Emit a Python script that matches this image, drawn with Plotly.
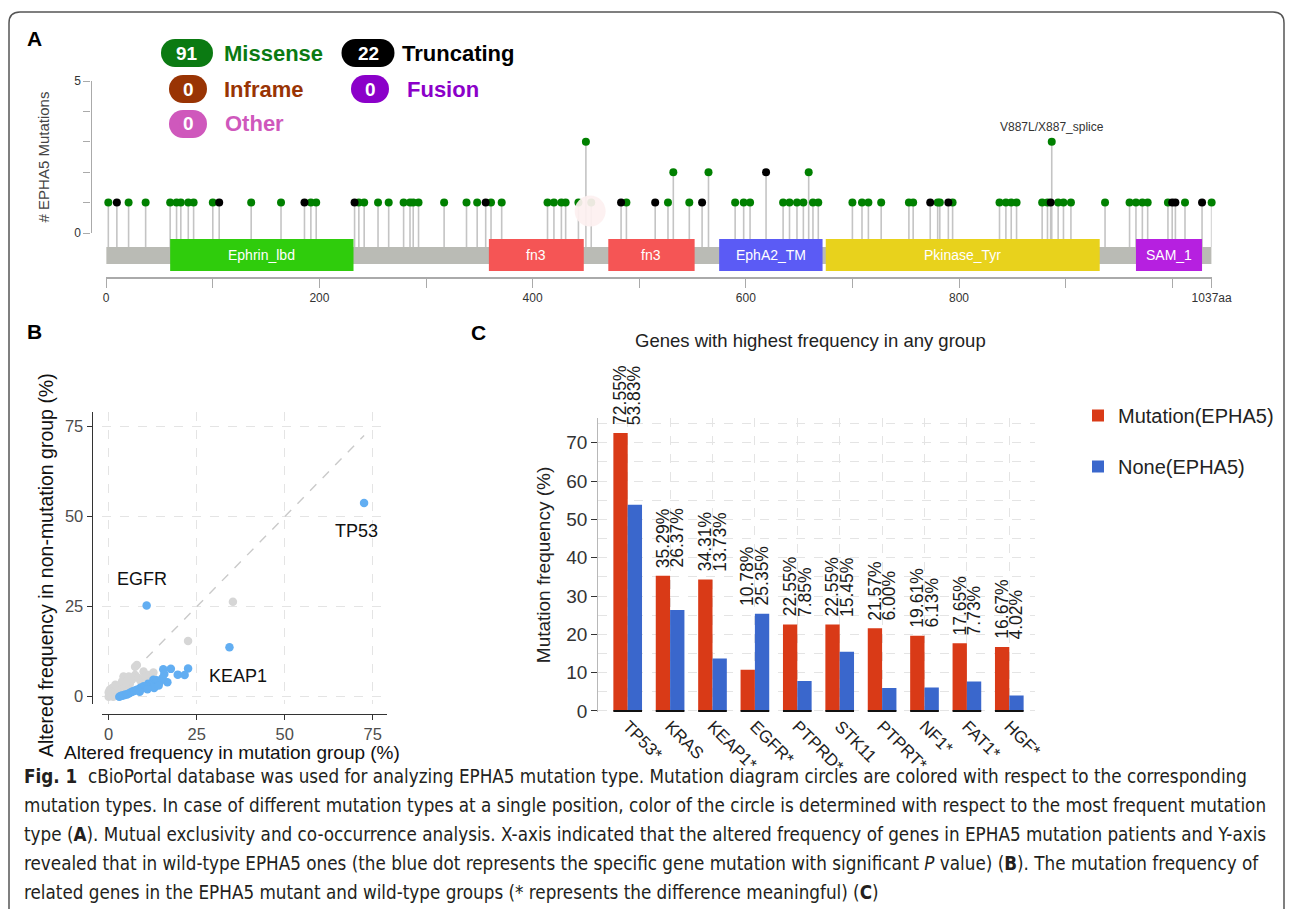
import plotly.graph_objects as go

# page is 1293x917; browser body margin of 8px is kept, so the figure is 1277x901 at (8, 8)
PAGE_W, PAGE_H = 1293, 917
OFF = 8
W, H = PAGE_W - 2 * OFF, PAGE_H - 2 * OFF


def fx(p):
    return (p - OFF) / W


def fy(p):
    return 1 - (p - OFF) / H


# ---------------- Panel A data (lollipop) ----------------
protein_length = 1037
missense_pos = [2, 21, 37, 60, 66, 70, 77, 82, 100, 136, 164, 192, 197, 237, 242, 255, 265, 279,
                285, 288, 293, 317, 338, 348, 361, 371, 414, 420, 427, 431, 443, 450, 455, 488,
                527, 532, 547, 565, 590, 598, 604, 635, 641, 648, 654, 659, 663, 668, 700, 709,
                715, 727, 753, 757, 780, 782, 794, 838, 844, 849, 854, 878, 883, 887, 893, 898,
                905, 937, 960, 966, 972, 977, 996, 1012, 1037]
missense_count = [1, 1, 1, 1, 1, 1, 1, 1, 1, 1, 1, 1, 1, 1, 1, 1, 1, 1,
                  1, 1, 1, 1, 1, 1, 1, 1, 1, 1, 1, 1, 1, 3, 1, 1,
                  1, 2, 1, 2, 1, 1, 1, 1, 1, 1, 1, 2, 1, 1, 1, 1,
                  1, 1, 1, 1, 1, 1, 1, 1, 1, 1, 1, 1, 1, 3, 1, 1,
                  1, 1, 1, 1, 1, 1, 1, 1, 1]
truncating_pos = [10, 106, 186, 233, 356, 483, 515, 559, 619, 773, 790, 886, 1000, 1003, 1028]
truncating_count = [1, 1, 1, 1, 1, 1, 1, 1, 2, 1, 1, 1, 1, 1, 1]
domain_names = ['Ephrin_lbd', 'fn3', 'fn3', 'EphA2_TM', 'Pkinase_Tyr', 'SAM_1']
domain_start = [60, 359, 471, 575, 675, 966]
domain_end = [232, 448, 552, 672, 932, 1028]
badge_labels = ['Missense', 'Truncating', 'Inframe', 'Fusion', 'Other']
badge_counts = [91, 22, 0, 0, 0]
hotspot_label = 'V887L/X887_splice'
hotspot_pos = 887
hotspot_count = 3
selected_pos = [454]
selected_level = [0.72]
a_tick_vals = [0, 100, 200, 300, 400, 500, 600, 700, 800, 900, 1000, 1037]
a_tick_text = ['0', '', '200', '', '400', '', '600', '', '800', '', '', '1037aa']
a_y_vals = [0, 1, 2, 3, 4, 5]
a_y_text = ['0', '', '', '', '', '5']

# ---------------- Panel B data (scatter) ----------------
sig_x = [72.55, 10.78, 34.31, 22.55, 21.57, 19.61, 17.65, 16.67, 15.5, 15.8,
         15.3, 14.6, 13.7, 13.6, 12.7, 12.2, 11.8, 11.2, 10.8, 10.4,
         9.9, 9.4, 9.0, 8.5, 8.0, 7.5, 7.0, 6.6, 6.1, 5.7,
         5.2, 4.7, 4.3, 3.8, 3.4, 3.0, 12.9, 11.0, 8.8, 14.2]
sig_y = [53.83, 25.35, 13.73, 7.85, 6.00, 6.13, 7.73, 4.02, 7.6, 6.3,
         5.2, 4.2, 3.7, 4.6, 4.7, 3.0, 3.3, 3.6, 2.8, 2.6,
         2.9, 2.3, 2.5, 2.0, 1.9, 1.7, 1.5, 1.4, 1.1, 0.9,
         0.6, 0.6, 0.4, 0.3, 0.2, 0.0, 2.4, 2.1, 1.4, 3.1]
ns_x = [35.29, 22.55, 0.0, 0.4, 0.8, 1.2, 1.6, 2.0, 2.4, 0.3,
        1.0, 1.9, 2.8, 3.5, 4.2, 4.7, 5.2, 5.7, 6.6, 7.5,
        8.0, 8.5, 9.9, 11.3, 12.7, 12.7, 7.5, 3.8, 6.0, 9.0,
        10.5, 3.0, 2.2, 1.5, 4.5, 0.6, 5.0, 0.0, 1.3, 2.6]
ns_y = [26.37, 15.45, 0.0, 0.4, 0.9, 0.2, 1.3, 0.6, 1.6, 1.9,
        2.4, 3.3, 2.8, 2.1, 5.6, 3.7, 2.6, 5.6, 4.7, 6.0,
        8.8, 5.2, 7.0, 6.0, 5.1, 6.7, 8.3, 4.2, 3.6, 4.5,
        5.5, 1.2, 2.0, 0.9, 2.9, 1.3, 4.0, 1.2, 0.0, 0.3]
diag_x = [0, 72.55]
diag_y = [0, 72.55]
b_labels = ['TP53', 'EGFR', 'KEAP1']
b_label_x = [70.3, 9.4, 36.8]
b_label_y = [46.0, 32.6, 5.8]
b_ticks = [0, 25, 50, 75]
b_x_title = 'Altered frequency in mutation group (%)'
b_y_title = 'Altered frequency in non-mutation group (%)'

# ---------------- Panel C data (bars) ----------------
genes = ['TP53*', 'KRAS', 'KEAP1*', 'EGFR*', 'PTPRD*', 'STK11', 'PTPRT*', 'NF1*', 'FAT1*', 'HGF*']
freq_mut = [72.55, 35.29, 34.31, 10.78, 22.55, 22.55, 21.57, 19.61, 17.65, 16.67]
freq_none = [53.83, 26.37, 13.73, 25.35, 7.85, 15.45, 6.00, 6.13, 7.73, 4.02]
series_names = ['Mutation(EPHA5)', 'None(EPHA5)']

caption_lines = [
    "<b>Fig. 1</b>\u00a0\u00a0cBioPortal database was used for analyzing EPHA5 mutation type. Mutation diagram circles are colored with respect to the corresponding",
    "mutation types. In case of different mutation types at a single position, color of the circle is determined with respect to the most frequent mutation",
    "type (<b>A</b>). Mutual exclusivity and co-occurrence analysis. X-axis indicated that the altered frequency of genes in EPHA5 mutation patients and Y-axis",
    "revealed that in wild-type EPHA5 ones (the blue dot represents the specific gene mutation with significant <i>P</i> value) (<b>B</b>). The mutation frequency of",
    "related genes in the EPHA5 mutant and wild-type groups (* represents the difference meaningful) (<b>C</b>)",
]

# ---------------- styles ----------------
SANS = 'Liberation Sans, Arial, sans-serif'
NARROW = 'DejaVu Sans Condensed, Liberation Sans Narrow, sans-serif'
C_MIS = '#008000'
C_TRUNC = '#000000'
badge_colors = ['#0b7a12', '#000000', '#993404', '#8B00C9', '#CF58BC']
badge_text_colors = ['#0b7a12', '#000000', '#993404', '#8B00C9', '#CF58BC']
domain_colors = ['#2fcc0c', '#f55555', '#f55555', '#5b5bf5', '#e8d21c', '#b620e0']
RED = '#d93a17'
BLUE = '#3a67cc'
STEM_BASE = -0.46

fig = go.Figure()

# ====== Panel A ======
all_pos = missense_pos + truncating_pos
all_cnt = missense_count + truncating_count
stem_x, stem_y = [], []
for p, c in zip(all_pos, all_cnt):
    stem_x += [p, p, None]
    stem_y += [STEM_BASE, c, None]
fig.add_trace(go.Scatter(x=stem_x, y=stem_y, mode='lines', xaxis='x', yaxis='y',
                         line=dict(color='#c4c4c4', width=1.6), hoverinfo='skip', showlegend=False))
fig.add_trace(go.Scatter(x=missense_pos, y=missense_count, mode='markers', xaxis='x', yaxis='y',
                         marker=dict(color=C_MIS, size=8, line=dict(width=0)), cliponaxis=False,
                         showlegend=False, name='Missense'))
fig.add_trace(go.Scatter(x=truncating_pos, y=truncating_count, mode='markers', xaxis='x', yaxis='y',
                         marker=dict(color=C_TRUNC, size=8, line=dict(width=0)), cliponaxis=False,
                         showlegend=False, name='Truncating'))
fig.add_trace(go.Scatter(x=selected_pos, y=selected_level, mode='markers', xaxis='x', yaxis='y',
                         marker=dict(color='rgba(253,240,240,0.93)', size=31, line=dict(width=0)),
                         cliponaxis=False, showlegend=False, hoverinfo='skip'))
fig.add_trace(go.Scatter(x=[], y=[], xaxis='x4', yaxis='y4', showlegend=False))

shapes = []
shapes.append(dict(type='rect', xref='x', yref='y', x0=0, x1=protein_length, y0=-1.02, y1=-0.46,
                   fillcolor='#babbb5', line=dict(width=0), layer='above'))
annotations = []
for name, s, e, col in zip(domain_names, domain_start, domain_end, domain_colors):
    shapes.append(dict(type='rect', xref='x', yref='y', x0=s, x1=e, y0=-1.25, y1=-0.197,
                       fillcolor=col, line=dict(width=0), layer='above'))
    annotations.append(dict(x=(s + e) / 2, y=-0.72, xref='x', yref='y', text=name, showarrow=False,
                            xanchor='center', yanchor='middle',
                            font=dict(family=SANS, size=14, color='white')))
annotations.append(dict(x=hotspot_pos, y=hotspot_count, xref='x', yref='y', text=hotspot_label,
                        showarrow=False, xanchor='center', yanchor='bottom', yshift=6,
                        font=dict(family=SANS, size=12, color='#333333')))


def pill(cx, cy, w, h, color):
    r = h / 2
    out = [dict(type='rect', xref='paper', yref='paper', x0=fx(cx - w / 2 + r), x1=fx(cx + w / 2 - r),
                y0=fy(cy + r), y1=fy(cy - r), fillcolor=color, line=dict(width=0), layer='below')]
    for ccx in (cx - w / 2 + r, cx + w / 2 - r):
        out.append(dict(type='circle', xref='paper', yref='paper', x0=fx(ccx - r), x1=fx(ccx + r),
                        y0=fy(cy + r), y1=fy(cy - r), fillcolor=color, line=dict(width=0),
                        layer='below'))
    return out


badge_geom = [(187, 53, 52, 28, 222), (368, 53, 53, 28, 400), (188, 89, 38, 28, 222),
              (370, 89, 38, 28, 405), (188, 124, 38, 28, 223)]
for lab, cnt, col, tcol, (cx, cy, w, h, tx) in zip(badge_labels, badge_counts, badge_colors,
                                                    badge_text_colors, badge_geom):
    shapes += pill(cx, cy, w, h, col)
    annotations.append(dict(x=fx(cx), y=fy(cy), xref='paper', yref='paper', text='<b>%d</b>' % cnt,
                            showarrow=False, xanchor='center', yanchor='middle',
                            font=dict(family=SANS, size=19, color='white')))
    annotations.append(dict(x=fx(tx), y=fy(cy), xref='paper', yref='paper', text='<b>%s</b>' % lab,
                            showarrow=False, xanchor='left', yanchor='middle',
                            font=dict(family=SANS, size=22, color=tcol)))

# ====== Panel B ======
fig.add_trace(go.Scatter(x=diag_x, y=diag_y, mode='lines', xaxis='x2', yaxis='y2',
                         line=dict(color='#cacaca', width=1.4, dash='dash'), showlegend=False,
                         hoverinfo='skip'))
fig.add_trace(go.Scatter(x=ns_x, y=ns_y, mode='markers', xaxis='x2', yaxis='y2',
                         marker=dict(color='#d6d6d6', size=8.5, line=dict(width=0)),
                         cliponaxis=False, showlegend=False, name='not significant'))
fig.add_trace(go.Scatter(x=sig_x, y=sig_y, mode='markers', xaxis='x2', yaxis='y2',
                         marker=dict(color='#62aef2', size=8.5, line=dict(width=0)),
                         cliponaxis=False, showlegend=False, name='significant'))
for t, x, y in zip(b_labels, b_label_x, b_label_y):
    annotations.append(dict(x=x, y=y, xref='x2', yref='y2', text=t, showarrow=False,
                            xanchor='center', yanchor='middle',
                            font=dict(family=SANS, size=18, color='#111111')))
annotations.append(dict(x=fx(232), y=fy(752), xref='paper', yref='paper', text=b_x_title,
                        showarrow=False, xanchor='center', yanchor='middle',
                        font=dict(family=SANS, size=19, color='#111111')))
annotations.append(dict(x=fx(46), y=fy(565), xref='paper', yref='paper', text=b_y_title,
                        showarrow=False, xanchor='center', yanchor='middle', textangle=-90,
                        font=dict(family=SANS, size=19.5, color='#111111')))

# ====== Panel C ======
gene_idx = list(range(len(genes)))
BW = 0.338
fig.add_trace(go.Bar(x=gene_idx, y=freq_mut, offset=-BW, width=BW, xaxis='x3', yaxis='y3',
                     marker=dict(color=RED, line=dict(width=0)), name=series_names[0],
                     legendgroup='m'))
fig.add_trace(go.Bar(x=gene_idx, y=freq_none, offset=0, width=BW, xaxis='x3', yaxis='y3',
                     marker=dict(color=BLUE, line=dict(width=0)), name=series_names[1],
                     legendgroup='n'))
base_x, base_y = [], []
for i in gene_idx:
    base_x += [i - BW, i + BW, None]
    base_y += [0, 0, None]
fig.add_trace(go.Scatter(x=base_x, y=base_y, mode='lines', xaxis='x3', yaxis='y3',
                         line=dict(color='#111111', width=2), showlegend=False, hoverinfo='skip'))
for i, m, n in zip(gene_idx, freq_mut, freq_none):
    top = max(m, n)
    for val, sh in ((m, -7.2), (n, 7.2)):
        annotations.append(dict(x=i, y=top, xref='x3', yref='y3', text='%.2f%%' % val,
                                showarrow=False, textangle=-90, xanchor='center', yanchor='bottom',
                                xshift=sh, yshift=6,
                                font=dict(family=SANS, size=17.5, color='#1a1a1a')))
annotations.append(dict(x=fx(810), y=fy(340), xref='paper', yref='paper',
                        text='Genes with highest frequency in any group', showarrow=False,
                        xanchor='center', yanchor='middle',
                        font=dict(family=SANS, size=18.5, color='#222222')))

# panel letters
for letter, x, y in (('A', 34, 39), ('B', 34, 332), ('C', 478, 333)):
    annotations.append(dict(x=fx(x), y=fy(y), xref='paper', yref='paper', text='<b>%s</b>' % letter,
                            showarrow=False, xanchor='center', yanchor='middle',
                            font=dict(family=SANS, size=21, color='black')))

# caption
for k, line in enumerate(caption_lines):
    annotations.append(dict(x=fx(22), y=fy(776 + 29 * k), xref='paper', yref='paper', text=line,
                            showarrow=False, xanchor='left', yanchor='middle',
                            font=dict(family=NARROW, size=18.7, color='#231f20')))

# border (rounded frame)
L, T, R, B, r = 9, 12, 1284, 925, 11
border = (f"M {fx(L)},{fy(B - r)} L {fx(L)},{fy(T + r)} Q {fx(L)},{fy(T)} {fx(L + r)},{fy(T)} "
          f"L {fx(R - r)},{fy(T)} Q {fx(R)},{fy(T)} {fx(R)},{fy(T + r)} L {fx(R)},{fy(B - r)} "
          f"Q {fx(R)},{fy(B)} {fx(R - r)},{fy(B)} L {fx(L + r)},{fy(B)} Q {fx(L)},{fy(B)} {fx(L)},{fy(B - r)} Z")
shapes.append(dict(type='path', xref='paper', yref='paper', path=border,
                   line=dict(color='#555555', width=1.5)))

# ---------- axes geometry (page pixels) ----------
A_x0, A_k = 106.2, 1.066
A_y0, A_ky = 233.0, 30.4
a_yr = [(A_y0 - 277) / A_ky, (A_y0 - 78) / A_ky]
B_x0, B_kx, B_y0, B_ky = 108.7, 3.52, 696.7, 3.6
b_xr = [-2.0, 79.0]
b_yr = [-2.0, 79.0]
C_x0, C_kx, C_y0, C_ky = 627.7, 42.4, 711.0, 3.833
c_xr = [-0.693, 9.6]
c_yr = [-0.3, 76.5]

grid_c = '#e4e4e4'
layout = dict(
    width=W, height=H, autosize=False,
    margin=dict(l=0, r=0, t=0, b=0, pad=0, autoexpand=False),
    paper_bgcolor='white', plot_bgcolor='white',
    font=dict(family=SANS, color='#222222'),
    showlegend=True,
    legend=dict(x=fx(1078), y=fy(396), xanchor='left', yanchor='top', bgcolor='rgba(0,0,0,0)',
                font=dict(family=SANS, size=20, color='#222222'), tracegroupgap=22,
                traceorder='grouped'),
    barmode='group',
    xaxis=dict(domain=[fx(A_x0), fx(A_x0 + A_k * protein_length)], range=[0, protein_length],
               anchor='y', showline=True, linecolor='#aaaaaa', linewidth=1.5, ticks='outside',
               ticklen=9, tickcolor='#aaaaaa', tickwidth=1.3, tickvals=a_tick_vals,
               ticktext=a_tick_text, tickfont=dict(family=SANS, size=12, color='#333333'),
               showgrid=False, zeroline=False, automargin=False),
    yaxis=dict(domain=[fy(277), fy(78)], range=a_yr, anchor='x', visible=False, automargin=False),
    xaxis4=dict(domain=[fx(91.5), fx(92.5)], range=[0, 1], anchor='y4', visible=False,
                automargin=False),
    yaxis4=dict(domain=[fy(A_y0), fy(A_y0 - 5 * A_ky)], range=[0, 5], anchor='x4', showline=True,
                linecolor='#aaaaaa', linewidth=1.3, ticks='outside', ticklen=7, tickcolor='#aaaaaa',
                tickvals=a_y_vals, ticktext=a_y_text, showgrid=False, zeroline=False,
                automargin=False, tickfont=dict(family=SANS, size=12, color='#333333'),
                title=dict(text='# EPHA5 Mutations', standoff=21,
                           font=dict(family=SANS, size=15, color='#444444'))),
    xaxis2=dict(domain=[fx(B_x0 + b_xr[0] * B_kx), fx(B_x0 + b_xr[1] * B_kx)], range=b_xr,
                anchor='free', position=fy(714), showline=True, linecolor='#333333', linewidth=1.3,
                ticks='outside', ticklen=5, tickcolor='#333333', tickvals=b_ticks,
                tickfont=dict(family=SANS, size=16.5, color='#4d4d4d'), automargin=False,
                showgrid=True, gridcolor=grid_c, griddash='dash', zeroline=False),
    yaxis2=dict(domain=[fy(B_y0 - b_yr[0] * B_ky), fy(B_y0 - b_yr[1] * B_ky)], range=b_yr,
                anchor='free', position=fx(91.7), showline=True, linecolor='#333333', linewidth=1.3,
                ticks='outside', ticklen=5, tickcolor='#333333', tickvals=b_ticks,
                tickfont=dict(family=SANS, size=16.5, color='#4d4d4d'), automargin=False,
                showgrid=True, gridcolor=grid_c, griddash='dash', zeroline=False),
    xaxis3=dict(domain=[fx(C_x0 + c_xr[0] * C_kx), fx(C_x0 + c_xr[1] * C_kx)], range=c_xr,
                anchor='y3', showline=False, ticks='', tickvals=gene_idx, ticktext=genes,
                tickangle=45, tickfont=dict(family=SANS, size=17, color='#222222'),
                showgrid=True, gridcolor=grid_c, griddash='dash', zeroline=False, automargin=False),
    yaxis3=dict(domain=[fy(C_y0 - c_yr[0] * C_ky), fy(C_y0 - c_yr[1] * C_ky)], range=c_yr,
                anchor='x3', showline=True, linecolor='#b8b8b8', linewidth=1.2, ticks='outside',
                ticklen=6, tickcolor='#333333', tick0=0, dtick=10, automargin=False,
                tickfont=dict(family=SANS, size=19, color='#333333'),
                showgrid=True, gridcolor=grid_c, griddash='dash', zeroline=False,
                minor=dict(dtick=5, tick0=0, showgrid=True, gridcolor=grid_c, griddash='dash', ticks=''),
                title=dict(text='Mutation frequency (%)', standoff=10,
                           font=dict(family=SANS, size=19, color='#222222'))),
    shapes=shapes,
    annotations=annotations,
)
fig.update_layout(**layout)
fig.write_html("out.html")
